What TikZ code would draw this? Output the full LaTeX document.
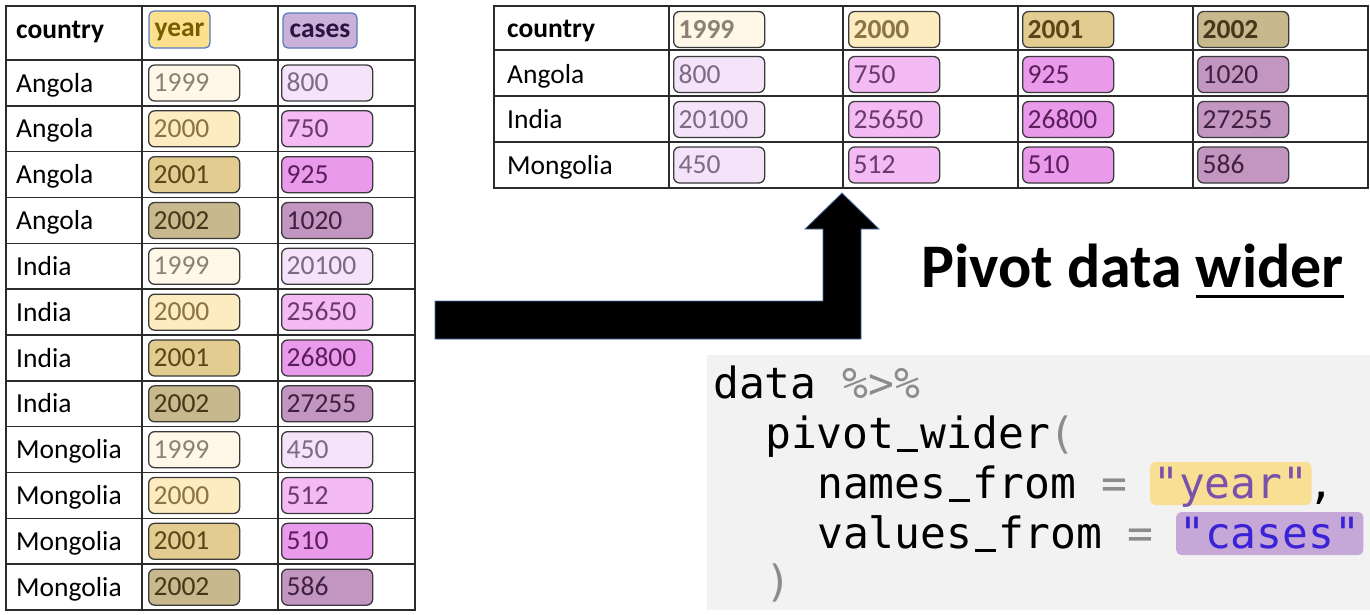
\documentclass[tikz,border=0pt]{standalone}
\usepackage{fontspec}
\setmainfont{Carlito}
\setmonofont{DejaVu Sans Mono}
\definecolor{gridc}{HTML}{2B2B2B}
\definecolor{boxline}{HTML}{3A3A3A}
\definecolor{hdrblue}{HTML}{5B7BBF}
\definecolor{yA}{HTML}{FFF8E9}\definecolor{yAt}{HTML}{8C8271}
\definecolor{yB}{HTML}{FDECBF}\definecolor{yBt}{HTML}{8A7443}
\definecolor{yC}{HTML}{E2CC8F}\definecolor{yCt}{HTML}{5A4618}
\definecolor{yD}{HTML}{C8B88D}\definecolor{yDt}{HTML}{45381A}
\definecolor{cA}{HTML}{F5E3FA}\definecolor{cAt}{HTML}{7B6A80}
\definecolor{cB}{HTML}{F3BAF3}\definecolor{cBt}{HTML}{6B3A6B}
\definecolor{cC}{HTML}{EA9AEA}\definecolor{cCt}{HTML}{5A1F5A}
\definecolor{cD}{HTML}{C396C2}\definecolor{cDt}{HTML}{3F213F}
\definecolor{hdrY}{HTML}{FBE18E}\definecolor{hdrYt}{HTML}{7A5C00}
\definecolor{hdrC}{HTML}{C9B1D9}\definecolor{hdrCt}{HTML}{2D1440}
\definecolor{codebg}{HTML}{F2F2F2}
\definecolor{cg}{HTML}{8C8C8C}
\definecolor{hlY}{HTML}{F9DF94}\definecolor{hlYt}{HTML}{7B52AB}
\definecolor{hlC}{HTML}{C6A8D8}\definecolor{hlCt}{HTML}{3A22D6}
\definecolor{arrline}{HTML}{4A6FA5}
\newcommand\myul[1]{\setbox0\hbox{#1}\rlap{\rule[-11pt]{\wd0}{3.5pt}}\box0}
\newcommand\us{\hbox to 0.602em{\hss\rule[-0.1em]{0.5em}{0.07em}\hss}}
\begin{document}
\begin{tikzpicture}[x=1pt,y=-1pt,
  grid/.style={draw=gridc,line width=1.4pt},
  txt/.style={anchor=base west,inner sep=0pt,font=\fontsize{27.5}{27.5}\selectfont},
  btxt/.style={txt,font=\fontsize{27.5}{27.5}\selectfont\bfseries},
  cell/.style={rectangle,rounded corners=6pt,draw=boxline,line width=1.3pt,
    minimum height=36pt,text width=81pt,inner xsep=5pt,inner ysep=0pt,align=left,
    text height=17pt,text depth=0pt,font=\fontsize{27.5}{27.5}\selectfont,anchor=west},
  bcell/.style={cell,font=\fontsize{27.5}{27.5}\selectfont\bfseries},
  yrA/.style={fill=yA,text=yAt},yrB/.style={fill=yB,text=yBt},
  yrC/.style={fill=yC,text=yCt},yrD/.style={fill=yD,text=yDt},
  csA/.style={fill=cA,text=cAt},csB/.style={fill=cB,text=cBt},
  csC/.style={fill=cC,text=cCt},csD/.style={fill=cD,text=cDt},
  hdrbox/.style={rectangle,rounded corners=5pt,draw=hdrblue,line width=1.3pt,inner sep=0pt,
    text height=14pt,text depth=0pt,font=\fontsize{27.5}{27.5}\selectfont\bfseries},
  code/.style={anchor=base west,inner sep=0pt,font=\fontsize{43}{50}\selectfont\ttfamily},
  hl/.style={code,rounded corners=5pt,inner xsep=3pt,inner ysep=3pt,text height=33pt,text depth=4pt}
]
\useasboundingbox (0,0) rectangle (1370,614);

% ---------- left (long) table ----------
\draw[grid] (6,6) rectangle (415,610);
\foreach \x in {142,278} \draw[grid] (\x,6) -- (\x,610);
\foreach \k in {0,...,11} \draw[grid] (6,{60+\k*45.833}) -- (415,{60+\k*45.833});
\node[btxt] (lhc) at (16,38) {country};
\node[hdrbox,fill=hdrY,text=hdrYt,minimum width=61pt,minimum height=37pt] (lhy) at (179.5,29.5) {year};
\node[hdrbox,fill=hdrC,text=hdrCt,minimum width=74pt,minimum height=35pt] (lhv) at (320,30.5) {cases};
\foreach \k/\c/\y/\s/\v in {
  0/Angola/1999/A/800, 1/Angola/2000/B/750, 2/Angola/2001/C/925, 3/Angola/2002/D/1020,
  4/India/1999/A/20100, 5/India/2000/B/25650, 6/India/2001/C/26800, 7/India/2002/D/27255,
  8/Mongolia/1999/A/450, 9/Mongolia/2000/B/512, 10/Mongolia/2001/C/510, 11/Mongolia/2002/D/586}{
  \node[txt] (lc\k) at (16,{60+\k*45.833+32}) {\c};
  \node[cell,yr\s] (ly\k) at (148,{60+\k*45.833+23}) {\y};
  \node[cell,cs\s] (lv\k) at (281,{60+\k*45.833+23}) {\v};
}

% ---------- right (wide) table ----------
\draw[grid] (494,6) rectangle (1368,188);
\foreach \x in {669,843,1018,1193} \draw[grid] (\x,6) -- (\x,188);
\foreach \y in {50,96,142} \draw[grid] (494,\y) -- (1368,\y);
\node[btxt] (rhc) at (507,37) {country};
\node[bcell,yrA] (rh1) at (673,29.5) {1999};
\node[bcell,yrB] (rh2) at (848,29.5) {2000};
\node[bcell,yrC] (rh3) at (1022,29.5) {2001};
\node[bcell,yrD] (rh4) at (1197,29.5) {2002};
\foreach \r/\cy/\c/\a/\b/\cc/\d in {
  1/74.5/Angola/800/750/925/1020,
  2/119.5/India/20100/25650/26800/27255,
  3/165/Mongolia/450/512/510/586}{
  \node[txt] (rc\r) at (507,\cy+9) {\c};
  \node[cell,csA] (ra\r) at (673,\cy) {\a};
  \node[cell,csB] (rb\r) at (848,\cy) {\b};
  \node[cell,csC] (rx\r) at (1022,\cy) {\cc};
  \node[cell,csD] (rd\r) at (1197,\cy) {\d};
}

% ---------- block arrow ----------
\filldraw[fill=black,draw=arrline,line width=0.8pt]
  (435,301) -- (823,301) -- (823,229) -- (805,229) -- (842,193) -- (879,229)
  -- (861,229) -- (861,339) -- (435,339) -- cycle;

% ---------- title ----------
\node[anchor=base west,inner sep=0pt,font=\fontsize{62}{62}\selectfont\bfseries] (title)
  at (921,287) {Pivot data \myul{wider}};

% ---------- code ----------
\fill[codebg] (707,355) rectangle (1370,610);
\node[code] (l1) at (713,398) {data \textcolor{cg}{\%>\%}};
\node[code] (l2) at (765,448) {pivot\us wider\textcolor{cg}{(}};
\node[code] (l3) at (817,498) {names\us from \textcolor{cg}{=}};
\node[hl,fill=hlY,text=hlYt] (l3s) at (1150,498) {"year"};
\node[code] (l3c) at ([xshift=-3pt]l3s.base east) {,};
\node[code] (l4) at (817,548) {values\us from \textcolor{cg}{=}};
\node[hl,fill=hlC,text=hlCt] (l4s) at (1176,548) {"cases"};
\node[code] (l5) at (765,596) {\textcolor{cg}{)}};
\end{tikzpicture}
\end{document}
